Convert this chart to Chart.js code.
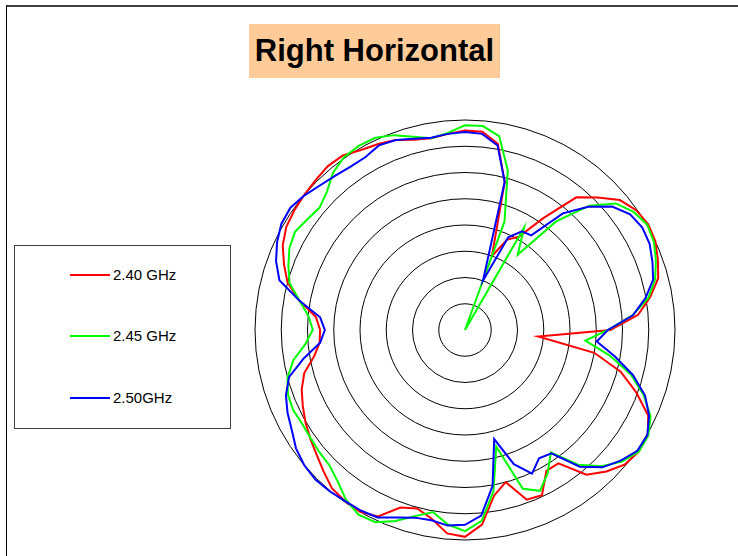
<!DOCTYPE html>
<html lang="en">
<head>
    <meta charset="UTF-8" />
    <title>Right Horizontal</title>
    <style>
        html, body {
            margin: 0;
            padding: 0;
            background: #fff;
            overflow: hidden;
            font-family: "Liberation Sans", Arial, sans-serif;
        }
        #page {
            position: relative;
            width: 738px;
            height: 556px;
        }
        .frame-top {
            position: absolute;
            left: 6px;
            top: 5px;
            width: 732px;
            height: 2px;
            background: #404040;
        }
        .frame-left {
            position: absolute;
            left: 6px;
            top: 5px;
            width: 1px;
            height: 551px;
            background: #000;
        }
        #title {
            position: absolute;
            left: 249px;
            top: 24px;
            width: 251px;
            height: 54px;
            line-height: 54px;
            background: #ffcc99;
            text-align: center;
            font-weight: bold;
            font-size: 31px;
            color: #000;
        }
        #legend {
            position: absolute;
            left: 14px;
            top: 245px;
            width: 215px;
            height: 182px;
            border: 1px solid #404040;
        }
        .item {
            position: absolute;
            left: 55px;
            height: 20px;
            line-height: 20px;
            font-size: 15px;
            color: #000;
        }
        .item span.swatch {
            display: inline-block;
            width: 40px;
            height: 2px;
            vertical-align: middle;
            margin-right: 3px;
            position: relative;
            top: -1px;
        }
        #polar {
            position: absolute;
            left: 241px;
            top: 106px;
        }
    </style>
    <script src="https://cdn.jsdelivr.net/npm/chart.js"></script>
</head>
<body>
<div id="page">
    <div class="frame-top"></div>
    <div class="frame-left"></div>
    <div id="title">Right Horizontal</div>
    <div id="legend"></div>
    <canvas id="polar" width="448" height="448"></canvas>
</div>

<script>
  // azimuth in degrees, 0 at top, clockwise
  const angles = [
    0, 5, 10, 15, 20, 25, 30, 35, 40, 45, 50, 55,
    60, 65, 70, 75, 80, 85, 90, 95, 100, 105, 110, 115,
    120, 125, 130, 135, 140, 145, 150, 155, 160, 165, 170, 175,
    180, 185, 190, 195, 200, 205, 210, 215, 220, 225, 230, 235,
    240, 245, 250, 255, 260, 265, 270, 275, 280, 285, 290, 295,
    300, 305, 310, 315, 320, 325, 330, 335, 340, 345, 350, 355
  ];

  const seriesNames = ["2.40 GHz", "2.45 GHz", "2.50GHz"];
  const seriesColors = ["#ff0000", "#00ff00", "#0000ff"];

  // gain, dB (ring step 5 dB, centre -40 dB)
  const gain240 = [
    -2.0, -2.1, -4.0, -10.8, -25.0, -21.0, -19.5, -14.0, -7.0, -4.3, -1.5, -0.2,
    0.3, 0.0, -0.9, -1.9, -4.2, -6.9, -12.3, -26.0, -15.0, -9.3, -5.3, -1.5,
    0.2, 0.4, -0.2, -1.9, -4.0, -9.0, -9.0, -5.3, -5.6, -10.0, -8.0, -2.8,
    -0.6, -1.1, -3.5, -4.8, -4.0, -0.8, 0.0, -0.2, -0.6, -1.9, -3.1, -4.0,
    -4.9, -5.9, -6.9, -8.3, -10.8, -12.2, -12.4, -11.5, -8.0, -5.0, -3.3, -1.7,
    -0.7, -0.3, 0.0, 0.3, 0.7, 0.6, -0.4, -0.9, -1.5, -2.5, -2.9, -2.5
  ];
  const gain245 = [
    -1.0, -1.0, -2.5, -8.5, -18.0, -40.0, -17.5, -22.5, -13.0, -6.5, -2.5, -0.8,
    0.1, -0.3, -1.3, -2.5, -4.5, -8.0, -12.8, -17.0, -12.0, -7.3, -3.8, -1.0,
    0.3, 0.4, -1.0, -3.3, -6.5, -11.5, -8.5, -6.2, -7.8, -17.0, -8.8, -3.5,
    -1.7, -2.8, -4.8, -3.3, -1.3, 0.4, 0.6, -0.5, -2.3, -3.5, -3.8, -4.1,
    -4.2, -3.9, -4.1, -5.0, -6.8, -9.5, -11.0, -10.1, -8.0, -5.4, -4.2, -3.1,
    -2.6, -3.3, -3.8, -2.8, -0.9, 0.2, 0.5, 0.4, -0.5, -1.9, -2.9, -2.3
  ];
  const gain250 = [
    -2.3, -2.5, -4.3, -10.8, -30.0, -20.5, -18.3, -18.0, -11.0, -6.8, -3.4, -1.6,
    -1.0, -1.2, -2.0, -2.9, -5.1, -7.9, -12.8, -14.8, -11.0, -6.9, -3.5, -1.3,
    0.1, 0.1, -1.3, -3.0, -6.0, -11.3, -11.8, -9.8, -12.8, -18.5, -9.8, -4.5,
    -2.9, -2.6, -3.2, -3.0, -2.0, -0.6, -0.3, -0.2, 0.1, 0.3, 0.0, -0.7,
    -1.9, -2.7, -3.7, -5.3, -8.8, -12.3, -13.3, -12.3, -8.0, -3.4, -1.7, -0.5,
    0.4, 0.6, -0.1, -1.0, -1.6, -2.0, -2.0, -1.2, -1.5, -2.3, -2.8, -2.5
  ];

  const ringMin = -40;
  const ringMax = 0;
  const ringStep = 5;

  // legend on the left
  const legendEl = document.getElementById("legend");
  const legendTops = [19, 80, 142];
  seriesNames.forEach((name, i) => {
    const row = document.createElement("div");
    row.className = "item";
    row.style.top = legendTops[i] + "px";
    const sw = document.createElement("span");
    sw.className = "swatch";
    sw.style.background = seriesColors[i];
    row.appendChild(sw);
    row.appendChild(document.createTextNode(name));
    legendEl.appendChild(row);
  });

  const allGains = [gain240, gain245, gain250];

  const ctx = document.getElementById("polar").getContext("2d");
  new Chart(ctx, {
    type: "radar",
    data: {
      labels: angles.map((a) => a + "°"),
      datasets: allGains.map((vals, i) => ({
        label: seriesNames[i],
        data: vals,
        borderColor: seriesColors[i],
        backgroundColor: seriesColors[i],
        borderWidth: 2,
        fill: false,
        tension: 0,
        pointRadius: 0,
        pointHoverRadius: 0,
        order: 3 - i,
      })),
    },
    options: {
      responsive: false,
      animation: false,
      devicePixelRatio: 1,
      layout: { padding: 14 },
      plugins: {
        legend: { display: false },
        tooltip: { enabled: false },
      },
      scales: {
        r: {
          min: ringMin,
          max: ringMax,
          startAngle: 0,
          ticks: { stepSize: ringStep, display: false },
          grid: { circular: true, color: "#000", lineWidth: 1 },
          angleLines: { display: false },
          pointLabels: { display: false },
        },
      },
    },
  });
</script>
</body>
</html>
